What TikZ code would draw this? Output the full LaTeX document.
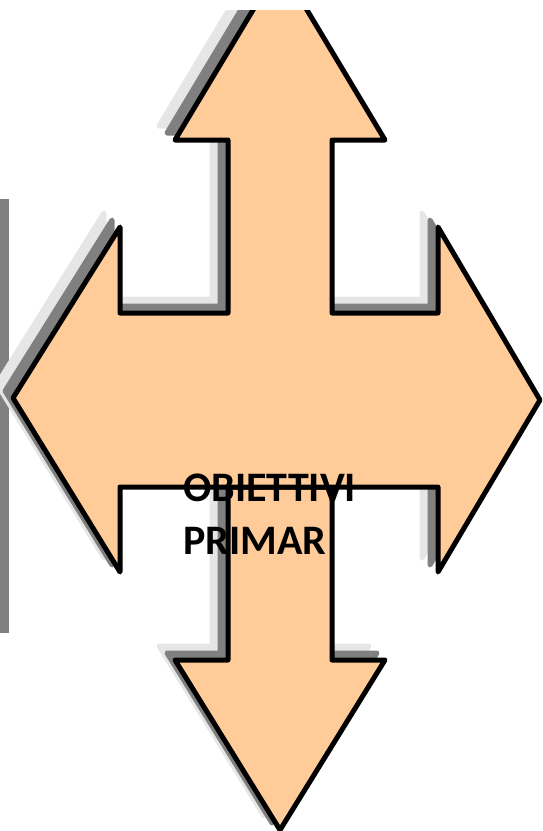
\documentclass[tikz,border=0pt]{standalone}
\usepackage{fontspec}
\setmainfont{Carlito}
\usepackage{tikz}
\usetikzlibrary{positioning,calc}
\definecolor{ArrowPeach}{HTML}{FFCC99}
\definecolor{ShadowDark}{HTML}{808080}
\definecolor{ShadowLight}{HTML}{E6E6E6}

% the two outlines, drawn with a given style
\newcommand{\crossarrow}[1]{\path[#1] (280,-35) -- (385,140) -- (332,140) -- (332,313) -- (438,313) -- (438,227) -- (540,400) -- (438,572) -- (438,487) -- (120,487) -- (120,572) -- (13,398) -- (120,227) -- (120,313) -- (228,313) -- (228,140) -- (175,140) -- cycle;}
\newcommand{\lowerarrow}[1]{\path[#1] (228,487) -- (332,487) -- (332,660) -- (385,660) -- (280,830) -- (175,660) -- (228,660) -- cycle;}

\begin{document}
\begin{tikzpicture}[x=1pt,y=-1pt,
  arrowbody/.style={draw=black,fill=ArrowPeach,line width=5pt,line join=round},
  shadowdark/.style={draw=ShadowDark,fill=ShadowDark,line width=5pt,line join=round,shift={(-8,-7)}},
  shadowlight/.style={draw=ShadowLight,fill=ShadowLight,line width=5pt,line join=round,shift={(-16,-14)}},
  titletext/.style={anchor=base west,inner sep=0pt,font=\fontsize{42}{51}\selectfont\bfseries},
]
\useasboundingbox (0,0) rectangle (542,831);
\fill[ShadowDark] (0,199) rectangle (9,633);
\begin{scope}
\clip (0,10) rectangle (542,835);
\crossarrow{shadowlight}
\lowerarrow{shadowlight}
\crossarrow{shadowdark}
\lowerarrow{shadowdark}
\lowerarrow{arrowbody}
\crossarrow{arrowbody}
\end{scope}
\node[titletext] (objline) at (183,501) {OBIETTIVI};
\node[titletext] (primline) at ($(objline.base west)+(0,53)$) {PRIMAR};
\end{tikzpicture}
\end{document}
